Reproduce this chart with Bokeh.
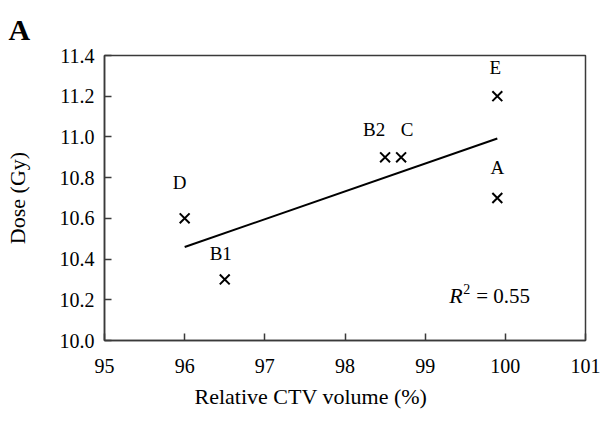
import numpy as np
from bokeh.plotting import figure
from bokeh.models import Range1d, FixedTicker, NumeralTickFormatter, Title, ColumnDataSource
from bokeh.core.properties import value
from bokeh.embed import file_html
from bokeh.resources import INLINE

# ---- data ----
point_labels = ["A", "B1", "B2", "C", "D", "E"]
ctv_volume = [99.9, 96.5, 98.5, 98.7, 96.0, 99.9]
dose_gy = [10.7, 10.3, 10.9, 10.9, 10.6, 11.2]
x_ticks = [95, 96, 97, 98, 99, 100, 101]
y_ticks = [10.0, 10.2, 10.4, 10.6, 10.8, 11.0, 11.2, 11.4]
x_title = "Relative CTV volume (%)"
y_title = "Dose (Gy)"
panel_letter = "A"

# label nudges (screen px, style only)
label_dx = [0, -4, -11, 6, -5, -2]
label_dy = [-31, -26, -28, -28, -36, -29]

FONT = "Liberation Serif"

src = ColumnDataSource(dict(x=ctv_volume, y=dose_gy, t=point_labels, dx=label_dx, dy=label_dy))

p = figure(width=600, height=415, output_backend="svg", toolbar_location=None,
           x_range=Range1d(95, 101), y_range=Range1d(10.0, 11.4),
           min_border_left=104, min_border_right=15, min_border_top=55, min_border_bottom=75)
p.background_fill_color = "white"
p.border_fill_color = "white"
p.grid.visible = False
p.outline_line_color = "#3a3a3a"
p.outline_line_width = 1.5

for ax in (p.xaxis[0], p.yaxis[0]):
    ax.axis_line_color = "#3a3a3a"
    ax.axis_line_width = 1.5
    ax.major_tick_line_color = "#3a3a3a"
    ax.major_tick_line_width = 1.5
    ax.major_tick_in = 7
    ax.major_tick_out = 0
    ax.minor_tick_line_color = None
    ax.major_label_text_font = FONT
    ax.major_label_text_font_size = "20px"
    ax.major_label_text_color = "black"

p.xaxis.ticker = FixedTicker(ticks=x_ticks)
p.yaxis.ticker = FixedTicker(ticks=y_ticks)
p.yaxis.formatter = NumeralTickFormatter(format="0.0")
p.xaxis.major_label_standoff = 18
p.yaxis.major_label_standoff = 10

p.yaxis.axis_label = y_title
p.yaxis.axis_label_text_font = FONT
p.yaxis.axis_label_text_font_style = "normal"
p.yaxis.axis_label_text_font_size = "22px"
p.yaxis.axis_label_text_color = "black"
p.yaxis.axis_label_standoff = 27

slope, intercept = np.polyfit(ctv_volume, dose_gy, 1)
xl = np.array([min(ctv_volume), max(ctv_volume)])
p.line(xl, slope * xl + intercept, line_color="black", line_width=2)
pred = slope * np.array(ctv_volume) + intercept
r2 = 1 - np.sum((np.array(dose_gy) - pred) ** 2) / np.sum((np.array(dose_gy) - np.mean(dose_gy)) ** 2)

p.scatter("x", "y", source=src, marker="x", size=14, line_color="black", line_width=2)
p.text("x", "y", text="t", source=src, x_offset="dx", y_offset="dy",
       text_font=value(FONT), text_font_size="19px", text_align="center",
       text_baseline="middle", text_color="black")

rx, ry = 99.3, 10.22
p.text([rx], [ry], text=["R"], text_font=value(FONT), text_font_style="italic",
       text_font_size="22px", text_align="left", text_baseline="middle", text_color="black")
p.text([rx], [ry], text=["2"], x_offset=14, y_offset=-7, text_font=value(FONT),
       text_font_size="14px", text_align="left", text_baseline="middle", text_color="black")
p.text([rx], [ry], text=["= %.2f" % r2], x_offset=27, text_font=value(FONT),
       text_font_size="21px", text_align="left", text_baseline="middle", text_color="black")

xt = Title(text=x_title, align="left", offset=90, text_font=FONT, text_font_size="22px",
           text_font_style="normal", text_color="black", standoff=13)
p.add_layout(xt, "below")
pl = Title(text=panel_letter, align="left", offset=-96, text_font=FONT, text_font_size="30px",
           text_font_style="bold", text_color="black", standoff=20)
p.add_layout(pl, "above")

open("out.html", "w").write(file_html(p, INLINE))
